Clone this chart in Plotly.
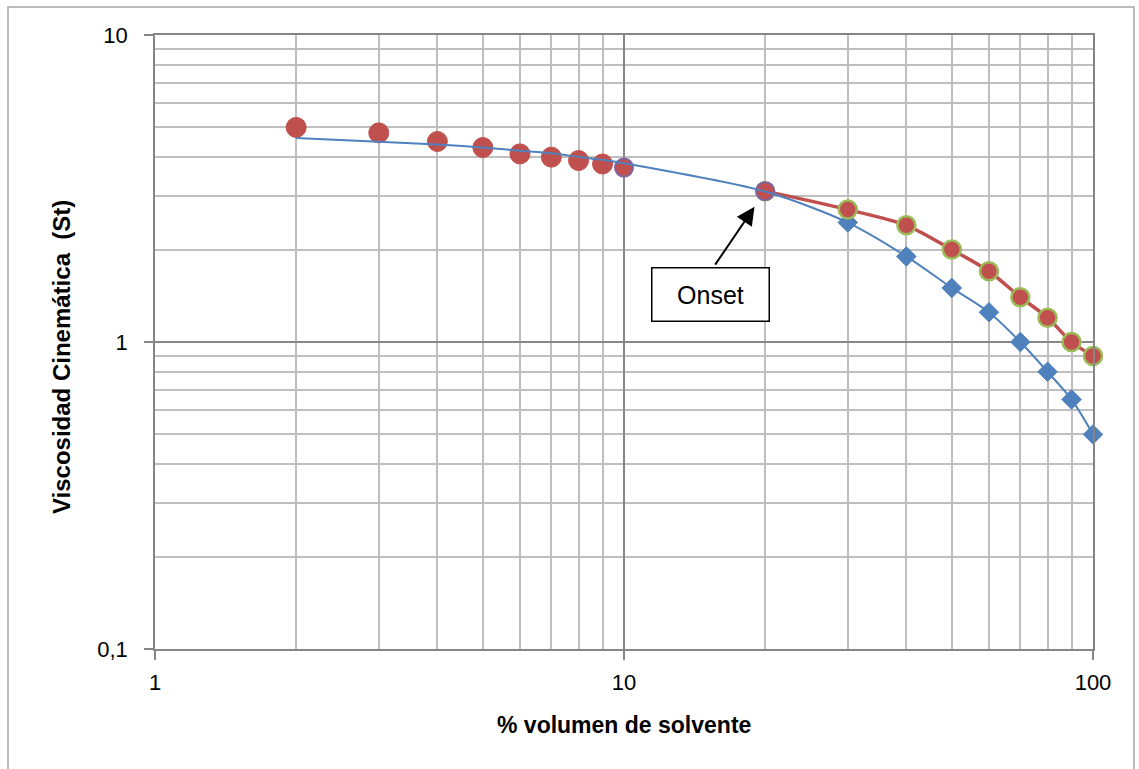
import math
import plotly.graph_objects as go

# % volumen de solvente vs viscosidad cinemática (St)
x_low = [2, 3, 4, 5, 6, 7, 8, 9]
visc_low = [5.0, 4.8, 4.5, 4.3, 4.1, 4.0, 3.9, 3.8]

x_mid = [10, 20]
visc_mid = [3.7, 3.1]

x_high = [20, 30, 40, 50, 60, 70, 80, 90, 100]
visc_high = [3.1, 2.7, 2.4, 2.0, 1.7, 1.4, 1.2, 1.0, 0.9]

x_diam = [30, 40, 50, 60, 70, 80, 90, 100]
visc_diam = [2.45, 1.9, 1.5, 1.25, 1.0, 0.8, 0.65, 0.5]

x_fit = [2, 3, 4, 5, 6, 7, 8, 9, 10, 20, 30, 40, 50, 60, 70, 80, 90, 100]
visc_fit = [4.62, 4.49, 4.40, 4.30, 4.20, 4.12, 4.01, 3.92, 3.82, 3.09,
            2.45, 1.9, 1.5, 1.25, 1.0, 0.8, 0.65, 0.5]

onset_x, onset_y = 20, 3.1

x_ticks = [1, 10, 100]
x_ticktext = ["1", "10", "100"]
y_ticks = [0.1, 1, 10]
y_ticktext = ["0,1", "1", "10"]

RED = "#C0504D"
BLUE = "#4F81BD"
GREEN = "#9BBB59"
PURPLE = "#8064A2"
MAJOR = "#868686"
MINOR = "#BFBFBF"
FONT = "Liberation Sans"

fig = go.Figure()

fig.add_trace(go.Scatter(
    x=x_diam, y=visc_diam, mode="markers", cliponaxis=False,
    marker=dict(symbol="diamond", size=15, color=BLUE, line=dict(color=BLUE, width=1)),
    showlegend=False))

fig.add_trace(go.Scatter(
    x=x_high, y=visc_high, mode="lines+markers", cliponaxis=False,
    line=dict(color=RED, width=3.5, shape="spline", smoothing=0.8),
    marker=dict(symbol="circle", size=18, color=RED, line=dict(color=GREEN, width=2.5)),
    showlegend=False))

fig.add_trace(go.Scatter(
    x=x_low, y=visc_low, mode="markers", cliponaxis=False,
    marker=dict(symbol="circle", size=20, color=RED, line=dict(color=RED, width=1)),
    showlegend=False))

fig.add_trace(go.Scatter(
    x=x_mid, y=visc_mid, mode="markers", cliponaxis=False,
    marker=dict(symbol="circle", size=18, color=RED, line=dict(color=PURPLE, width=2)),
    showlegend=False))

fig.add_trace(go.Scatter(
    x=x_fit, y=visc_fit, mode="lines", cliponaxis=False,
    line=dict(color=BLUE, width=2, shape="spline", smoothing=0.8),
    showlegend=False))

axis_common = dict(
    type="log",
    showline=True, linecolor=MAJOR, linewidth=1.5, mirror=True,
    showgrid=True, gridcolor=MAJOR, gridwidth=1.5,
    ticks="outside", ticklen=9, tickcolor=MAJOR, tickwidth=1.5,
    tickfont=dict(family=FONT, size=22, color="black"),
    zeroline=False,
)

fig.update_xaxes(
    **axis_common, range=[0, 2],
    tickmode="array", tickvals=x_ticks, ticktext=x_ticktext,
    minor=dict(tickmode="array",
               tickvals=[2, 3, 4, 5, 6, 7, 8, 9, 20, 30, 40, 50, 60, 70, 80, 90],
               showgrid=True, gridcolor=MINOR, gridwidth=1.5, ticks=""),
    ticklabelstandoff=4,
)
fig.update_yaxes(
    **axis_common, range=[-1, 1],
    tickmode="array", tickvals=y_ticks, ticktext=y_ticktext,
    minor=dict(tickmode="array",
               tickvals=[0.2, 0.3, 0.4, 0.5, 0.6, 0.7, 0.8, 0.9,
                         2, 3, 4, 5, 6, 7, 8, 9],
               showgrid=True, gridcolor=MINOR, gridwidth=1.5, ticks=""),
    ticklabelstandoff=12,
)

annotations = [
    # arrow pointing at the onset point
    dict(x=math.log10(onset_x), y=math.log10(onset_y), xref="x", yref="y",
         text="", showarrow=True, ax=-51, ay=75, axref="pixel", ayref="pixel",
         arrowhead=2, arrowsize=1.8, arrowwidth=2, arrowcolor="black", standoff=19),
    # label box
    dict(x=0.5917, y=0.578, xref="paper", yref="paper", text="Onset",
         showarrow=False, xanchor="center", yanchor="middle",
         font=dict(family=FONT, size=25, color="black"),
         bordercolor="black", borderwidth=1.5, borderpad=3,
         width=110, height=46, bgcolor="white"),
    dict(x=0.5, y=-0.1238, xref="paper", yref="paper",
         text="<b>% volumen de solvente</b>", showarrow=False,
         xanchor="center", yanchor="middle",
         font=dict(family=FONT, size=23, color="black")),
    dict(x=-0.0991, y=0.4756, xref="paper", yref="paper",
         text="<b>Viscosidad Cinemática  (St)</b>", showarrow=False,
         textangle=-90, xanchor="center", yanchor="middle",
         font=dict(family=FONT, size=24, color="black")),
]

fig.update_layout(
    width=1139, height=769,
    margin=dict(l=155, r=46, t=35, b=120),
    paper_bgcolor="white", plot_bgcolor="white",
    annotations=annotations,
    shapes=[dict(type="rect", xref="paper", yref="paper",
                 x0=(8 - 155) / 938, x1=(1134 - 155) / 938,
                 y0=(649 - 775) / 614, y1=(649 - 7) / 614,
                 line=dict(color="#A6A6A6", width=1.5), layer="below")],
)

fig.write_html("out.html")
